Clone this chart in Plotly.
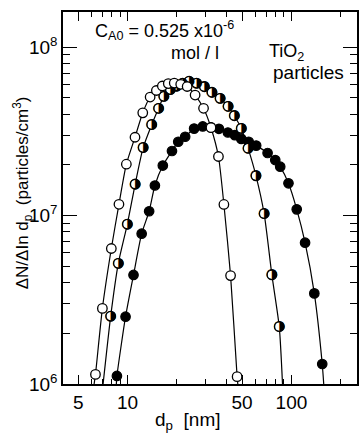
import plotly.graph_objects as go

# ---- data (d_p in nm, dN/dln dp in particles/cm3) ----
open_x = [6.37, 7.02, 7.96, 8.86, 9.83, 11.1, 12.38, 13.73, 14.99, 16.30, 17.72, 19.27,
          21.10, 23.10, 25.83, 29.08, 32.29, 35.85, 38.71, 42.51, 46.61]
open_y = [1.14e6, 2.81e6, 6.37e6, 1.166e7, 2.016e7, 2.915e7, 4.07e7, 5.05e7, 5.52e7, 5.87e7,
          6.07e7, 6.11e7, 6.01e7, 5.83e7, 5.19e7, 4.33e7, 3.32e7, 2.24e7, 1.163e7, 4.40e6, 1.105e6]

half_x = [7.89, 8.78, 9.97, 11.13, 12.45, 14.04, 15.46, 16.64, 18.22, 19.95, 21.70, 23.75,
          26.38, 29.41, 32.74, 36.71, 41.05, 44.82, 49.41, 54.35, 60.75, 68.13, 75.96, 84.24]
half_y = [2.53e6, 5.20e6, 8.90e6, 1.538e7, 2.53e7, 3.46e7, 4.33e7, 5.10e7, 5.59e7, 5.87e7,
          6.11e7, 6.27e7, 6.11e7, 5.81e7, 5.39e7, 4.96e7, 4.45e7, 3.91e7, 3.29e7, 2.51e7,
          1.72e7, 1.025e7, 4.44e6, 2.19e6]

full_x = [8.61, 9.72, 10.87, 12.19, 13.54, 14.68, 16.41, 18.66, 20.38, 22.46, 25.47, 28.76,
          32.29, 36.11, 40.94, 45.13, 49.41, 54.88, 60.92, 71.52, 79.65, 85.40, 95.9, 107.7,
          121.1, 137.9, 154.1]
full_y = [1.116e6, 2.51e6, 4.44e6, 7.80e6, 1.06e7, 1.507e7, 1.98e7, 2.415e7, 2.74e7, 2.935e7,
          3.28e7, 3.38e7, 3.34e7, 3.27e7, 3.11e7, 3.00e7, 2.85e7, 2.74e7, 2.60e7, 2.35e7,
          2.135e7, 1.95e7, 1.553e7, 1.088e7, 6.90e6, 3.45e6, 1.314e6]

# where the fitted curves meet the bottom axis (10^6)
open_ends_x = [6.25, 47.07]
half_ends_x = [7.09, 88.2]
full_ends_x = [8.54, 157.4]
axis_floor = 1e6

x_ticks = [5, 10, 50, 100]
x_minor = [6, 7, 8, 9, 20, 30, 40, 60, 70, 80, 90, 200]
y_ticks = [1e6, 1e7, 1e8]
y_ticklabels = ["10<sup>6</sup>", "10<sup>7</sup>", "10<sup>8</sup>"]
y_minor = [2e6, 3e6, 4e6, 5e6, 6e6, 7e6, 8e6, 9e6, 2e7, 3e7, 4e7, 5e7, 6e7, 7e7, 8e7, 9e7]

FONT = "Liberation Sans, Arial, sans-serif"
fig = go.Figure()

def curve(xs, ys, ends):
    cx = [ends[0]] + xs + [ends[1]]
    cy = [axis_floor] + ys + [axis_floor]
    fig.add_trace(go.Scatter(x=cx, y=cy, mode="lines", line=dict(color="black", width=1.2, shape="spline", smoothing=0.6),
                             hoverinfo="skip", showlegend=False))

curve(full_x, full_y, full_ends_x)
curve(half_x, half_y, half_ends_x)
curve(open_x, open_y, open_ends_x)

fig.add_trace(go.Scatter(x=full_x, y=full_y, mode="markers",
                         marker=dict(symbol="circle", size=9.5, color="black", line=dict(color="black", width=1.2)),
                         showlegend=False))
# half-filled circles: outlined white disc + glyph with right half black
fig.add_trace(go.Scatter(x=half_x, y=half_y, mode="markers",
                         marker=dict(symbol="circle", size=9.5, color="white", line=dict(color="black", width=1.3)),
                         showlegend=False))
fig.add_trace(go.Scatter(x=half_x, y=half_y, mode="text", text=["\u25d1"] * len(half_x),
                         textposition="middle center", hoverinfo="skip",
                         textfont=dict(family="DejaVu Sans", size=14, color="black"),
                         showlegend=False))
fig.add_trace(go.Scatter(x=open_x, y=open_y, mode="markers",
                         marker=dict(symbol="circle", size=9.5, color="white", line=dict(color="black", width=1.3)),
                         showlegend=False))

axis_common = dict(showgrid=False, zeroline=False, showline=True, linecolor="black", linewidth=1.5,
                   ticks="inside", tickcolor="black", mirror="ticks",
                   tickfont=dict(family=FONT, size=19, color="black"))

fig.update_layout(
    width=359, height=434,
    margin=dict(l=63, r=0, t=12, b=50),
    paper_bgcolor="white", plot_bgcolor="white",
    xaxis=dict(type="log", range=[0.606, 2.4], tickmode="array", tickvals=x_ticks,
               ticktext=[str(v) for v in x_ticks], ticklen=9, tickwidth=1.2,
               minor=dict(tickmode="array", tickvals=x_minor, ticks="inside", ticklen=5, tickcolor="black", tickwidth=1, showgrid=False),
               **axis_common),
    yaxis=dict(type="log", range=[6, 8.208], tickmode="array", tickvals=y_ticks, ticktext=y_ticklabels,
               ticklen=14, tickwidth=1.3,
               minor=dict(tickmode="array", tickvals=y_minor, ticks="inside", ticklen=7, tickcolor="black", tickwidth=1, showgrid=False),
               **axis_common),
    font=dict(family=FONT, color="black"),
)

def ann(text, x, y, size=19, xanchor="center", angle=0, yanchor="middle"):
    fig.add_annotation(text=text, x=x, y=y, xref="paper", yref="paper", showarrow=False,
                       xanchor=xanchor, yanchor=yanchor, textangle=angle,
                       font=dict(family=FONT, size=size, color="black"))

ann("\u0394N/\u0394In d<sub>p</sub>  (particles/cm<sup>3</sup>)", -0.1385, 0.5134, size=17, angle=-90)
ann("d<sub>p</sub>  [nm]", 0.4257, -0.138, size=19, yanchor="bottom")
ann("C<sub>A0</sub> = 0.525 x10<sup>-6</sup>", 0.1014, 0.9516, size=18, xanchor="left")
ann("mol / l", 0.449, 0.8898, size=18)
ann("TiO<sub>2</sub>", 0.6926, 0.892, size=18, xanchor="left")
ann("particles", 0.706, 0.8387, size=19, xanchor="left")

fig.write_html("out.html")
